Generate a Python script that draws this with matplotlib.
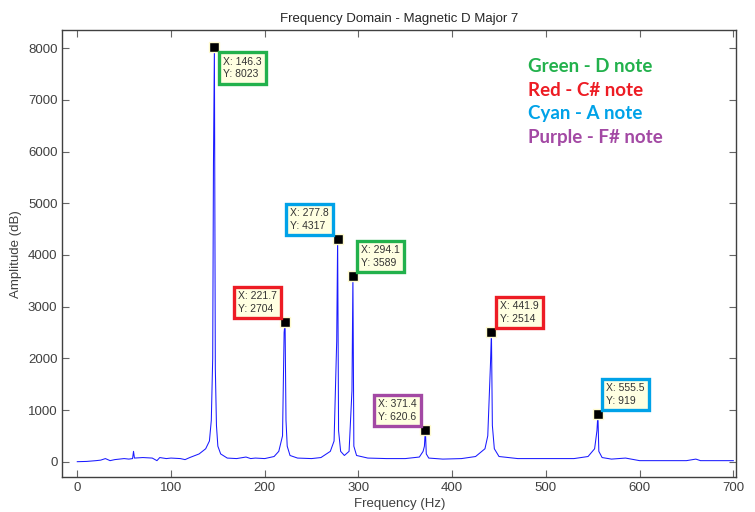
import numpy as np
import matplotlib.pyplot as plt

plt.rcParams['font.family'] = ['Liberation Sans', 'DejaVu Sans']

# Spectrum (Hz, amplitude)
freq = [0, 10, 20, 25, 30, 35, 40, 50, 55, 59, 60, 61, 70, 80, 85, 88, 95, 100,
        110, 115, 120, 130, 137, 141, 143, 144.5, 145.3, 146.3, 147.3, 148.5,
        150, 153, 160, 170, 180, 185, 190, 200, 210, 215, 219, 220.7, 221.7,
        222.7, 224, 227, 235, 250, 260, 270, 274, 276.8, 277.8, 278.8, 281,
        285, 290, 293.1, 294.1, 295.1, 298, 310, 330, 350, 365, 369, 370.4,
        371.4, 372.4, 375, 390, 410, 425, 435, 438, 440.9, 441.9, 442.9, 445,
        450, 470, 500, 530, 545, 552, 554.5, 555.5, 556.5, 560, 570, 585, 600,
        650, 660, 665, 700]
amp = [0, 5, 20, 30, 60, 20, 40, 60, 50, 60, 200, 70, 80, 70, 20, 80, 60, 70,
       60, 40, 80, 150, 250, 400, 800, 2000, 5750, 8023, 1800, 700,
       300, 150, 70, 60, 90, 60, 70, 60, 100, 200, 500, 2500, 2704,
       800, 300, 120, 70, 60, 80, 200, 400, 2330, 4317, 600, 200,
       120, 200, 1380, 3589, 300, 120, 70, 60, 60, 90, 200, 300,
       620.6, 150, 70, 50, 60, 100, 250, 500, 1900, 2514, 700, 250,
       100, 60, 60, 60, 100, 250, 600, 919, 200, 80, 50, 70, 20,
       20, 50, 20, 20]

# Data tips
tip_x = [146.3, 221.7, 277.8, 294.1, 371.4, 441.9, 555.5]
tip_y = [8023, 2704, 4317, 3589, 620.6, 2514, 919]
tip_x_txt = ['146.3', '221.7', '277.8', '294.1', '371.4', '441.9', '555.5']
tip_y_txt = ['8023', '2704', '4317', '3589', '620.6', '2514', '919']

green, red, cyan, purple = '#22b14c', '#ed1c24', '#00a2e8', '#a349a4'
tip_colors = [green, red, cyan, green, purple, red, cyan]
# placement of each box relative to its point
tip_side = ['lr', 'ul', 'ul', 'ur', 'ul', 'ur', 'ur']

legend_lines = ['Green - D note', 'Red - C# note', 'Cyan - A note', 'Purple - F# note']
legend_colors = [green, red, cyan, purple]

fig = plt.figure(figsize=(7.55, 5.12), dpi=100)
ax = fig.add_axes([0.0825, 0.068, 0.8925, 0.873])

ax.plot(freq, amp, color='#1a1aff', lw=0.75)
ax.set_xlim(-16, 703)
ax.set_ylim(-300, 8350)
ax.set_xticks(np.arange(0, 701, 100))
ax.set_yticks(np.arange(0, 8001, 1000))

gray = '#404040'
for s in ax.spines.values():
    s.set_color(gray)
    s.set_linewidth(1.0)
ax.tick_params(direction='in', length=5, color='#666666', labelcolor=gray,
               labelsize=9.5, top=True, right=True)
ax.set_xlabel('Frequency (Hz)', color=gray, fontsize=9.5, labelpad=3)
ax.set_ylabel('Amplitude (dB)', color=gray, fontsize=9.5, labelpad=4)
ax.set_title('Frequency Domain - Magnetic D Major 7', color='#262626',
             fontsize=9.5, pad=6)

for x, y, xt, yt, c, side in zip(tip_x, tip_y, tip_x_txt, tip_y_txt, tip_colors, tip_side):
    ax.plot(x, y, 's', ms=7, mfc='black', mec='#fffbd0', mew=1, zorder=5)
    if side == 'lr':
        off, ha, va = (8.5, -9.5), 'left', 'top'
    elif side == 'ul':
        off, ha, va = (-8.5, 8), 'right', 'bottom'
    else:
        off, ha, va = (8.5, 8), 'left', 'bottom'
    ax.annotate('X: %s\nY: %s' % (xt, yt), (x, y), xytext=off,
                textcoords='offset pixels', ha=ha, va=va, fontsize=7.5,
                multialignment='left', color='#333333', linespacing=1.35,
                bbox=dict(boxstyle='square,pad=0.4', fc='#ffffe1', ec=c, lw=2.4),
                zorder=6)

for i, (t, c) in enumerate(zip(legend_lines, legend_colors)):
    fig.text(528 / 755, 1 - (66 + i * 24) / 512, t, color=c, fontsize=13.5,
             fontweight='bold', family='Lato', ha='left', va='center')

fig.savefig('out.png', dpi=100)
